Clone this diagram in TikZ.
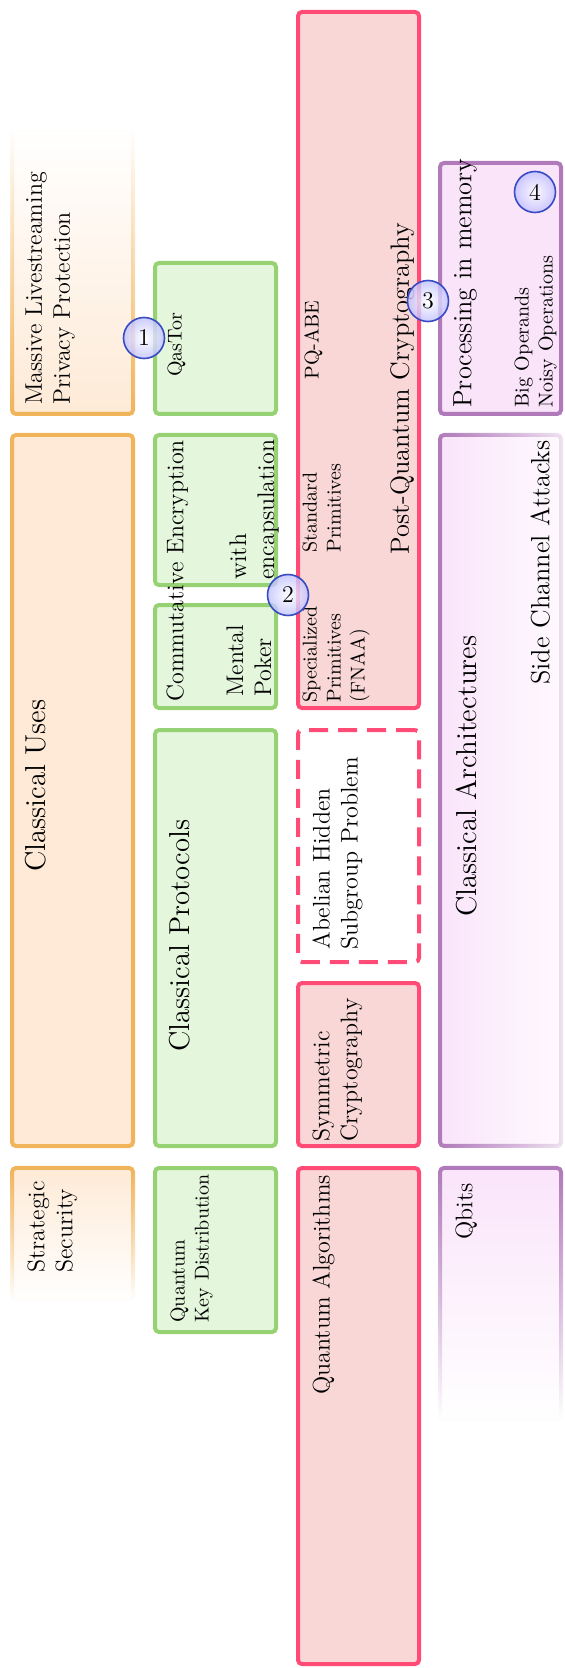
\documentclass[tikz,border=0pt]{standalone}
\usepackage{tikz}
\usetikzlibrary{positioning, fit, fadings}
\definecolor{useline}{RGB}{240,180,90}
\definecolor{usefill}{RGB}{254,234,214}
\definecolor{protline}{RGB}{150,210,115}
\definecolor{protfill}{RGB}{228,247,220}
\definecolor{cryptline}{RGB}{255,75,117}
\definecolor{cryptfill}{RGB}{250,215,215}
\definecolor{archline}{RGB}{176,122,186}
\definecolor{archfill}{RGB}{250,228,250}
\definecolor{markline}{RGB}{55,75,195}
\tikzfading[name=fadeup, top color=transparent!100, bottom color=transparent!0]
\tikzfading[name=fadedown, top color=transparent!0, bottom color=transparent!100]
\tikzfading[name=fadeside, left color=transparent!0, right color=transparent!80]
\tikzstyle{layerbox} = [rectangle, rounded corners=2pt, line width=2pt, inner sep=0pt]
\tikzstyle{usebox} = [layerbox, draw=useline, fill=usefill]
\tikzstyle{protbox} = [layerbox, draw=protline, fill=protfill]
\tikzstyle{cryptbox} = [layerbox, draw=cryptline, fill=cryptfill]
\tikzstyle{archbox} = [layerbox, draw=archline, fill=archfill]
\tikzstyle{txt} = [rotate=90, anchor=north west, inner sep=0pt, align=left]
\tikzstyle{bigtxt} = [txt, font=\Large]
\tikzstyle{lrgtxt} = [txt, font=\fontsize{13.2pt}{16pt}\selectfont]
\tikzstyle{midtxt} = [txt, font=\large]
\tikzstyle{smalltxt} = [txt, font=\normalsize]
\tikzstyle{marker} = [circle, draw=markline, line width=0.8pt, inner color=white, outer color=blue!25,
    fill opacity=0.8, text opacity=1, minimum size=20.5pt, inner sep=0pt, font=\large]

\begin{document}
\begin{tikzpicture}[x=0.5pt, y=-0.5pt]
  \useasboundingbox (0,0) rectangle (564,1668);

  \node (massive)   [usebox, fit={(12,130) (133,414)}, path fading=fadeup] {};
  \node (uses)      [usebox, fit={(12,435) (133,1146)}] {};
  \node (strategic) [usebox, fit={(12,1168) (133,1300)}, path fading=fadedown] {};

  \node (qastor)    [protbox, fit={(155,263) (276,414)}] {};
  \node (encap)     [protbox, fit={(155,435) (276,585)}] {};
  \node (poker)     [protbox, fit={(155,605) (276,708)}] {};
  \node (protocols) [protbox, fit={(155,730) (276,1146)}] {};
  \node (qkd)       [protbox, fit={(155,1168) (276,1332)}] {};

  \node (pqc)       [cryptbox, fit={(298,12) (419,708)}] {};
  \node (hsp)       [cryptbox, fill=white, dash pattern=on 9.5pt off 5pt, fit={(298,730) (419,962)}] {};
  \node (symm)      [cryptbox, fit={(298,983) (419,1146)}] {};
  \node (qalgo)     [cryptbox, fit={(298,1168) (419,1664)}] {};

  \node (pim)       [archbox, fit={(440,163) (561,414)}] {};
  \node (arch)      [archbox, fit={(440,435) (561,1146)}, path fading=fadeside] {};
  \node (qbits)     [archbox, fit={(440,1168) (561,1420)}, path fading=fadedown] {};

  \node (massivetxt)   [midtxt] at (25,405) {Massive Livestreaming\\Privacy Protection};
  \node (usestxt)      [bigtxt] at (25,872) {Classical Uses};
  \node (strategictxt) [midtxt] at (27,1273) {Strategic\\Security};

  \node (qastortxt)    [smalltxt] at (167,377) {QasTor};
  \node (commtxt)      [midtxt] at (166,702) {Commutative Encryption};
  \node (encaptxt)     [midtxt] at (229,580) {with\\encapsulation};
  \node (pokertxt)     [midtxt] at (226,697) {Mental\\Poker};
  \node (protocolstxt) [bigtxt] at (169,1052) {Classical Protocols};
  \node (qkdtxt)       [smalltxt] at (170,1323) {Quantum\\Key Distribution};

  \node (abetxt)       [smalltxt] at (304,380) {PQ-ABE};
  \node (stdtxt)       [smalltxt] at (302,553) {Standard\\Primitives};
  \node (spectxt)      [smalltxt] at (302,703) {Specialized\\Primitives\\(FNAA)};
  \node (pqctxt)       [lrgtxt] at (390,555) {Post-Quantum Cryptography};
  \node (hsptxt)       [midtxt] at (312,950) {Abelian Hidden\\Subgroup Problem};
  \node (symmtxt)      [midtxt] at (312,1142) {Symmetric\\Cryptography};
  \node (qalgotxt)     [midtxt] at (312,1395) {Quantum Algorithms};

  \node (pimtxt)       [lrgtxt] at (453,408) {Processing in memory};
  \node (opstxt)       [smalltxt] at (514,408) {Big Operands\\Noisy Operations};
  \node (archtxt)      [bigtxt] at (456,917) {Classical Architectures};
  \node (sidetxt)      [lrgtxt] at (530,685) {Side Channel Attacks};
  \node (qbitstxt)     [midtxt] at (455,1240) {Qbits};

  \node (m1) [marker] at (144,338) {1};
  \node (m2) [marker] at (288,595) {2};
  \node (m3) [marker] at (428,301) {3};
  \node (m4) [marker] at (535,192) {4};
\end{tikzpicture}
\end{document}
